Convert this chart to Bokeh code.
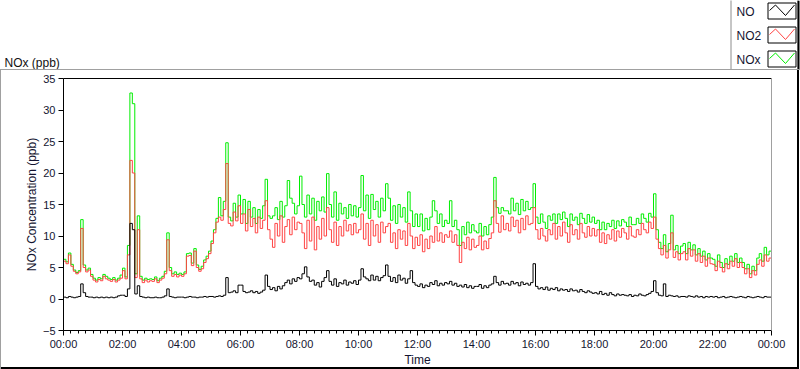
import numpy as np
from bokeh.plotting import figure
from bokeh.layouts import column
from bokeh.models import Range1d, FixedTicker, LinearAxis, ColumnDataSource
from bokeh.core.properties import value
from bokeh.embed import file_html
from bokeh.resources import INLINE

# ---------------- data (5-minute samples, 00:00 .. 24:00) ----------------
SAMPLE_MINUTES = 5

NO2 = [
    6.0, 5.6, 7.0, 5.2, 4.4, 4.0, 4.3, 11.2, 5.0, 4.3, 4.6, 3.6,
    3.0, 2.7, 3.1, 2.9, 3.6, 3.2, 3.0, 2.8, 3.1, 2.7, 3.0, 3.3,
    4.5, 3.2, 7.0, 22.0, 20.0, 3.4, 11.0, 3.2, 2.6, 3.0, 2.7, 2.9,
    2.8, 3.2, 2.6, 3.0, 3.3, 4.0, 9.4, 4.5, 3.6, 3.9, 3.5, 3.8,
    3.6, 4.0, 6.8, 6.9, 5.3, 7.6, 5.0, 4.4, 4.8, 5.8, 6.4, 7.2,
    8.8, 10.5, 12.2, 13.0, 12.5, 14.2, 21.5, 12.0, 11.6, 13.8, 12.4, 14.8,
    12.0, 13.5, 10.8, 14.2, 11.5, 12.8, 10.5, 13.0, 11.2, 12.5, 15.6, 11.0,
    9.5, 8.2, 12.0, 10.0, 13.2, 9.0, 11.5, 12.6, 10.2, 13.0, 11.0, 12.2,
    12.0, 10.5, 8.0, 12.5, 9.2, 13.0, 7.8, 11.5, 9.5, 12.8, 10.0, 14.5,
    11.0, 9.0, 12.2, 8.5, 11.5, 10.0, 12.5, 10.8, 11.8, 10.2, 12.0, 10.5,
    11.0, 13.5, 9.5, 12.0, 8.5, 12.5, 10.0, 11.8, 9.0, 12.2, 10.5, 11.5,
    12.0, 9.0, 10.5, 8.0, 11.0, 9.5, 10.8, 8.5, 12.0, 10.0, 8.0, 9.8,
    8.5, 10.2, 7.5, 9.5, 8.0, 10.0, 9.0, 11.5, 9.2, 10.5, 9.0, 10.2,
    9.8, 10.8, 9.0, 10.2, 8.5, 5.8, 9.0, 8.0, 9.8, 7.8, 9.5, 8.2,
    8.5, 10.0, 7.8, 9.2, 8.0, 9.6, 10.5, 15.6, 12.0, 10.6, 13.2, 11.0,
    12.0, 10.8, 13.0, 11.5, 12.5, 10.5, 12.8, 11.0, 13.2, 11.8, 12.0, 14.5,
    11.0, 9.5, 11.2, 10.0, 9.2, 11.0, 10.2, 12.0, 9.5, 11.5, 10.0, 12.2,
    10.5, 9.0, 11.8, 10.2, 11.0, 9.5, 12.0, 10.5, 9.8, 11.5, 10.0, 11.2,
    10.0, 11.0, 9.0, 10.5, 8.8, 10.2, 9.5, 11.0, 9.2, 10.8, 9.8, 11.2,
    10.5, 9.5, 11.5, 10.0, 9.8, 11.0, 10.2, 12.0, 11.0, 10.5, 12.2, 11.2,
    13.0, 9.5, 8.0, 7.0, 8.5, 6.5, 7.8, 10.5, 6.6, 7.5, 6.2, 7.2,
    7.5, 6.2, 8.0, 6.8, 7.8, 6.0, 7.2, 5.8, 6.8, 5.2, 6.5, 5.6,
    5.5, 4.5, 6.0, 5.0, 4.3, 5.6, 4.8, 6.0, 5.2, 6.4, 5.0, 5.8,
    5.0, 4.0, 4.8, 3.4, 4.5, 3.8, 5.5, 6.2, 5.2, 7.0, 6.0, 6.5,
    6.8,
]

NOX = [
    6.3, 5.9, 7.3, 5.5, 4.6, 4.2, 4.5, 12.6, 5.4, 4.6, 4.9, 3.9,
    3.3, 3.0, 3.4, 3.2, 3.9, 3.6, 3.3, 3.1, 3.4, 3.0, 3.3, 3.8,
    4.9, 3.5, 8.5, 32.7, 31.0, 4.0, 13.2, 3.6, 3.0, 3.3, 3.1, 3.2,
    3.1, 3.5, 2.9, 3.3, 3.6, 4.4, 10.5, 5.0, 4.0, 4.3, 3.9, 4.1,
    3.9, 4.3, 7.2, 7.3, 5.7, 8.0, 5.4, 4.7, 5.2, 6.2, 6.8, 7.6,
    9.2, 11.0, 12.8, 16.1, 13.2, 15.5, 24.8, 13.0, 12.4, 15.2, 13.0, 16.5,
    13.5, 15.8, 12.0, 15.5, 13.0, 14.5, 12.0, 14.2, 12.8, 14.8, 19.0, 13.2,
    12.8, 13.2, 14.5, 12.6, 15.5, 13.0, 14.8, 18.8, 16.0, 15.2, 13.5, 14.8,
    19.5, 15.0, 13.0, 16.5, 13.5, 16.0, 12.5, 15.5, 14.0, 16.2, 13.8, 19.9,
    15.0, 13.0, 17.0, 12.5, 15.2, 13.5, 14.5, 12.8, 15.0, 13.2, 14.8, 13.0,
    14.5, 19.6, 14.0, 16.5, 12.8, 16.6, 14.2, 15.5, 13.0, 16.0, 14.0, 18.3,
    16.0, 12.5, 14.8, 12.0, 15.0, 13.0, 14.5, 12.2, 17.0, 14.0, 11.5, 13.5,
    11.5, 13.5, 10.8, 12.8, 11.0, 13.0, 15.6, 14.0, 12.0, 13.5, 11.5, 12.5,
    12.0, 15.6, 11.5, 12.5, 11.0, 8.5, 11.5, 10.2, 12.2, 10.5, 11.8, 10.8,
    10.5, 12.0, 10.0, 11.5, 10.2, 11.8, 13.0, 19.3, 14.5, 13.6, 14.5, 14.0,
    14.0, 13.5, 16.0, 14.0, 15.2, 13.4, 15.8, 14.0, 15.5, 14.2, 14.5, 18.3,
    13.0, 12.0, 13.5, 12.2, 11.2, 13.2, 12.5, 13.5, 12.0, 13.5, 12.6, 13.8,
    12.8, 11.5, 13.5, 12.5, 13.0, 11.8, 13.6, 12.8, 12.0, 13.4, 12.2, 13.0,
    12.0, 12.5, 11.0, 12.2, 11.0, 12.0, 11.5, 12.5, 11.2, 12.4, 11.6, 12.6,
    12.2, 11.5, 13.0, 11.8, 11.8, 12.8, 12.0, 13.5, 12.8, 12.2, 13.6, 13.0,
    16.7, 11.0, 9.0, 8.0, 10.2, 7.5, 8.8, 13.3, 7.8, 8.5, 7.2, 8.4,
    8.8, 7.2, 9.0, 7.8, 8.6, 7.0, 8.0, 6.8, 7.6, 6.2, 7.2, 6.5,
    6.3, 5.2, 7.0, 5.8, 5.0, 6.4, 5.5, 6.8, 6.0, 7.2, 5.8, 6.5,
    5.8, 4.8, 5.5, 4.0, 5.2, 4.5, 6.5, 7.2, 6.0, 8.2, 7.0, 7.6,
    7.6,
]

NO = [
    0.3, 0.2, 0.4, 0.3, 0.2, 0.3, 0.4, 2.4, 1.0, 0.4, 0.3, 0.3,
    0.2, 0.3, 0.2, 0.3, 0.2, 0.3, 0.2, 0.3, 0.2, 0.3, 0.5, 0.6,
    0.6, 0.4, 1.6, 12.0, 11.0, 0.8, 2.1, 0.4, 0.3, 0.2, 0.3, 0.2,
    0.2, 0.3, 0.2, 0.2, 0.3, 0.5, 1.6, 0.4, 0.3, 0.2, 0.3, 0.3,
    0.3, 0.2, 0.3, 0.4, 0.3, 0.3, 0.2, 0.3, 0.3, 0.4, 0.3, 0.4,
    0.4, 0.3, 0.4, 0.5, 0.4, 0.6, 3.4, 1.0, 1.1, 1.3, 1.0, 2.2,
    2.2, 1.2, 1.0, 1.1, 1.3, 1.0, 1.2, 0.9, 1.1, 1.4, 3.8, 2.0,
    1.5, 1.8, 1.3, 2.0, 1.6, 2.1, 2.6, 3.0, 2.4, 3.2, 2.8, 3.4,
    3.2, 4.0, 5.1, 3.5, 2.8, 3.0, 2.2, 2.6, 1.9, 2.8, 3.4, 4.5,
    2.8, 2.2, 3.2, 2.0, 2.6, 2.4, 3.0, 2.2, 2.7, 2.5, 2.9, 2.3,
    3.0, 4.8, 3.5, 3.2, 2.9, 3.8, 3.0, 3.6, 2.9, 3.4, 3.7, 5.4,
    3.6, 2.8, 3.4, 2.6, 3.8, 3.0, 3.3, 2.5, 3.2, 4.5, 2.6, 2.2,
    2.0, 2.4, 1.8, 2.2, 2.0, 2.6, 2.3, 2.9, 2.1, 2.5, 2.2, 2.6,
    2.4, 2.8, 2.2, 2.5, 2.0, 2.2, 1.9, 2.3, 1.8, 2.1, 1.7, 2.0,
    2.0, 2.3, 1.7, 2.1, 1.8, 2.2, 2.4, 3.6, 2.6, 2.2, 2.8, 2.4,
    2.5, 2.2, 2.8, 2.4, 2.6, 2.1, 2.7, 2.3, 2.5, 2.2, 2.6, 5.6,
    2.0, 1.6, 1.8, 1.5, 1.9, 1.4, 1.7, 1.5, 1.8, 1.3, 1.6, 1.4,
    1.5, 1.2, 1.6, 1.3, 1.4, 1.1, 1.5, 1.2, 1.0, 1.3, 1.1, 0.9,
    1.0, 0.8, 1.2, 0.7, 0.9, 0.6, 1.0, 0.7, 0.5, 0.8, 0.6, 0.7,
    0.6, 0.5, 0.7, 0.4, 0.6, 0.5, 0.8, 0.6, 0.5, 0.7, 0.9, 1.2,
    2.9, 1.0, 0.6, 0.5, 2.4, 0.4, 0.6, 0.5, 0.4, 0.5, 0.3, 0.4,
    0.4, 0.3, 0.5, 0.4, 0.3, 0.5, 0.3, 0.4, 0.2, 0.4, 0.3, 0.4,
    0.3, 0.4, 0.2, 0.3, 0.4, 0.2, 0.3, 0.4, 0.3, 0.2, 0.3, 0.4,
    0.3, 0.2, 0.4, 0.3, 0.2, 0.3, 0.4, 0.3, 0.2, 0.4, 0.3, 0.3,
    0.3,
]

X_TICK_HOURS = [0, 2, 4, 6, 8, 10, 12, 14, 16, 18, 20, 22, 24]
X_TICK_LABELS = ["00:00", "02:00", "04:00", "06:00", "08:00", "10:00", "12:00",
                 "14:00", "16:00", "18:00", "20:00", "22:00", "00:00"]
Y_TICKS = [-5, 0, 5, 10, 15, 20, 25, 30, 35]
SERIES_NAMES = ["NO", "NO2", "NOx"]
CHART_TITLE = "NOx (ppb)"

# ---------------- styling ----------------
COL_NO, COL_NO2, COL_NOX = "#000000", "#ff4444", "#00ee00"
SERIES_COLORS = [COL_NO, COL_NO2, COL_NOX]
TEXT = "#141430"
FONT = "Liberation Sans"
W = 800
TOP_H = 69                 # strip holding title + legend
MAIN_H = 300               # framed chart below it
FL, FR, FT, FB = 63, 771, 9, 261   # plot frame edges on the main canvas

T_HOURS = np.arange(len(NO2)) * SAMPLE_MINUTES / 60.0


def unaligned(fig):
    if "frame_align" in fig.properties():
        fig.frame_align = False
    return fig


# ---------------- top strip: title and legend ----------------
top = figure(width=W, height=TOP_H, output_backend="svg", toolbar_location=None,
             x_range=Range1d(0, W), y_range=Range1d(TOP_H, 0),
             x_axis_type=None, y_axis_type=None,
             min_border_left=0, min_border_right=0, min_border_top=0, min_border_bottom=0,
             background_fill_color="white", border_fill_color="white",
             outline_line_color=None)
unaligned(top)
top.grid.visible = False

top.text(x=[4], y=[62.5], text=[CHART_TITLE], text_font=value(FONT),
         text_font_size=value("12px"), text_color="#111111", text_baseline="alphabetic")

# legend panel
top.quad(left=[730.5], right=[797.5], top=[-2], bottom=[TOP_H + 2],
         fill_color="white", line_color="#8c8c8c", line_width=1)
row_tops = [2 + 24 * i for i in range(len(SERIES_NAMES))]
top.text(x=[736] * 3, y=[t + 9.5 for t in row_tops], text=SERIES_NAMES,
         text_font=value(FONT), text_font_size=value("12px"), text_color=TEXT,
         text_baseline="middle")
top.quad(left=[767.5] * 3, right=[795.5] * 3, top=[t + 0.5 for t in row_tops],
         bottom=[t + 16.5 for t in row_tops], fill_color="white", line_color="black",
         line_width=1)
zig_x = [769, 775, 785, 794]
top.multi_line(xs=[zig_x] * 3,
               ys=[[t + 8, t + 2.5, t + 13, t + 2.5] for t in row_tops],
               line_color=SERIES_COLORS, line_width=1)
top.quad(left=[797], right=[799], top=[0], bottom=[TOP_H], fill_color="black",
         line_color=None)

# ---------------- main chart ----------------
p = figure(width=W, height=MAIN_H, output_backend="svg", toolbar_location=None,
           x_range=Range1d(0, 24), y_range=Range1d(-5, 35),
           min_border_left=FL, min_border_right=W - FR,
           min_border_top=FT, min_border_bottom=MAIN_H - FB,
           background_fill_color="white", border_fill_color=None,
           outline_line_color=None)
unaligned(p)
p.styles = {
    "background-color": "white",
    "box-shadow": ("inset 1px 1px 0 0 #a0a0a0, inset -1px 0 0 0 #ffffff, "
                   "inset -3px 0 0 0 #000000, inset 0 -2px 0 0 #000000"),
}
p.grid.visible = False

xa = p.xaxis[0]
ya = p.yaxis[0]
xa.ticker = FixedTicker(ticks=X_TICK_HOURS, minor_ticks=[q / 4 for q in range(97)])
xa.major_label_overrides = dict(zip(X_TICK_HOURS, X_TICK_LABELS))
ya.ticker = FixedTicker(ticks=Y_TICKS)
for ax in (xa, ya):
    ax.axis_line_color = "black"
    ax.major_tick_line_color = "black"
    ax.minor_tick_line_color = "black"
    ax.major_tick_in = 0
    ax.minor_tick_in = 0
    ax.major_label_text_font = FONT
    ax.major_label_text_font_size = "11px"
    ax.major_label_text_color = TEXT
    ax.axis_label_text_font = FONT
    ax.axis_label_text_font_size = "12px"
    ax.axis_label_text_font_style = "normal"
    ax.axis_label_text_color = TEXT
xa.major_tick_out = 5
xa.minor_tick_out = 3
xa.major_label_standoff = 2
xa.axis_label = "Time"
xa.axis_label_standoff = 0
ya.major_tick_out = 5
ya.minor_tick_out = 0
ya.major_label_standoff = 3
ya.axis_label = "NOx Concentration (ppb)"
ya.axis_label_standoff = 1

for side, col in (("above", "black"), ("right", "#a0a0a0")):
    ax = LinearAxis(ticker=FixedTicker(ticks=[]), axis_line_color=col,
                    major_tick_out=0, major_tick_in=0, minor_tick_out=0, minor_tick_in=0,
                    major_label_standoff=0)
    p.add_layout(ax, side)

src = ColumnDataSource(dict(t=T_HOURS, no=NO, no2=NO2, nox=NOX))
p.step("t", "nox", source=src, mode="after", line_color=COL_NOX, line_width=1)
p.step("t", "no2", source=src, mode="after", line_color=COL_NO2, line_width=1)
p.step("t", "no", source=src, mode="after", line_color=COL_NO, line_width=1)

layout = column(top, p, spacing=0)
open("out.html", "w").write(file_html(layout, INLINE))
